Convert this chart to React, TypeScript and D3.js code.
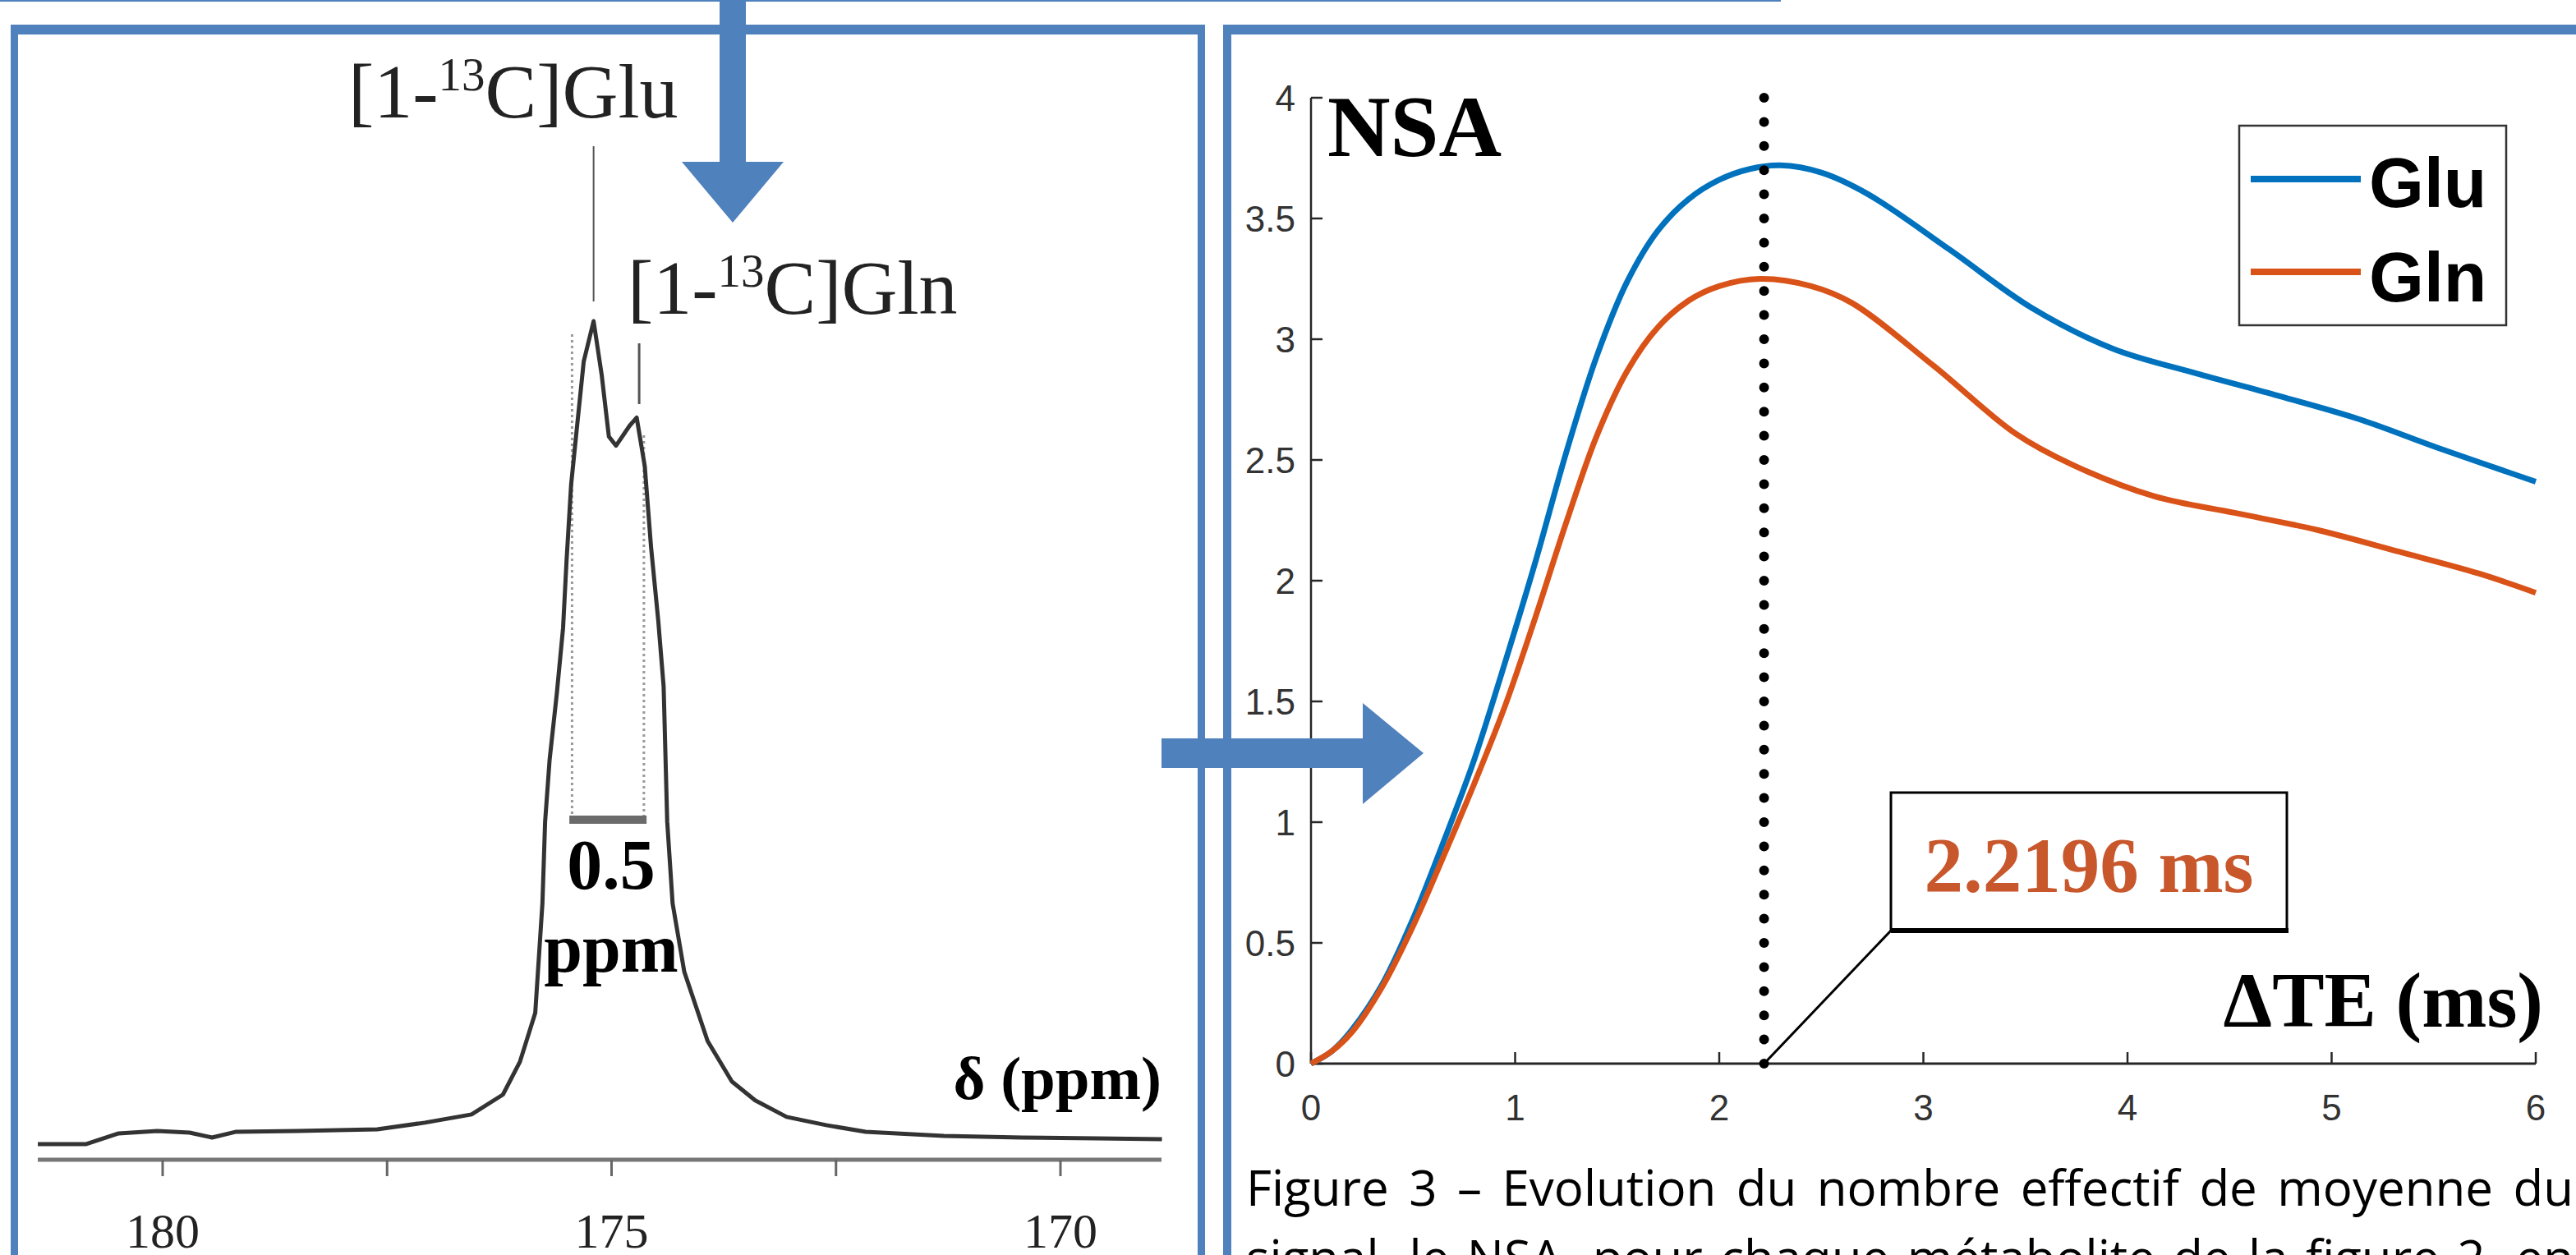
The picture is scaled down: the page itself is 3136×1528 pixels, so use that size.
import React, { useMemo } from 'react';
import * as d3 from 'd3';

// ---------- Right chart data (NSA vs ΔTE) ----------
const TE_GLU = [0, 0.1, 0.2, 0.35, 0.5, 0.65, 0.8, 0.95, 1.1, 1.25, 1.4, 1.55, 1.7, 1.85, 2.0, 2.15, 2.3, 2.5, 2.73, 3.13, 3.53, 3.93, 4.33, 4.72, 5.13, 5.52, 6.0];
const NSA_GLU = [0, 0.05, 0.14, 0.33, 0.6, 0.92, 1.26, 1.66, 2.08, 2.53, 2.93, 3.24, 3.45, 3.58, 3.66, 3.705, 3.72, 3.69, 3.6, 3.37, 3.13, 2.96, 2.86, 2.77, 2.67, 2.55, 2.41];
const TE_GLN = [0, 0.1, 0.2, 0.35, 0.5, 0.65, 0.8, 0.95, 1.1, 1.25, 1.4, 1.55, 1.7, 1.85, 2.0, 2.2, 2.45, 2.65, 3.05, 3.45, 3.73, 4.13, 4.53, 4.93, 5.33, 5.72, 6.0];
const NSA_GLN = [0, 0.05, 0.13, 0.32, 0.57, 0.86, 1.16, 1.48, 1.85, 2.24, 2.6, 2.87, 3.05, 3.16, 3.22, 3.25, 3.22, 3.15, 2.89, 2.61, 2.48, 2.35, 2.28, 2.21, 2.12, 2.03, 1.95];
const X_TICKS = [0, 1, 2, 3, 4, 5, 6];
const Y_TICKS = [0, 0.5, 1, 1.5, 2, 2.5, 3, 3.5, 4];
const SERIES_NAMES = ['Glu', 'Gln'];
const SERIES_COLORS = ['#0072BD', '#D95319'];
const TE_OPT = 2.2196;

// ---------- Left spectrum data ----------
const PPM = [181.39, 181.29, 180.85, 180.49, 180.06, 179.7, 179.45, 179.18, 178.5, 177.61, 177.08, 176.56, 176.21, 176.02, 175.85, 175.77, 175.74, 175.69, 175.61, 175.54, 175.5, 175.45, 175.38, 175.31, 175.2, 175.11, 175.03, 174.95, 174.8, 174.72, 174.63, 174.56, 174.48, 174.42, 174.38, 174.32, 174.19, 173.93, 173.66, 173.4, 173.05, 172.61, 172.17, 171.3, 170.43, 169.6, 168.87];
const INTENSITY = [0.2, 0.2, 0.2, 1.5, 1.8, 1.6, 1.0, 1.7, 1.8, 2.0, 2.8, 3.8, 6.2, 10.2, 16.1, 29.4, 39.3, 46.8, 54.8, 62.8, 71.2, 80.2, 87.7, 95.1, 100, 93.5, 86.0, 84.9, 87.3, 88.3, 82.4, 72.6, 63.7, 55.7, 39.3, 29.4, 21.1, 12.7, 7.8, 5.5, 3.5, 2.5, 1.7, 1.2, 1.0, 0.9, 0.8];
const PPM_TICKS = [180, 177.5, 175, 172.5, 170];
const PPM_LABELS = [180, 175, 170];
const GLU_PPM = 175.2;
const GLN_PPM = 174.72;

const CAPTION_1 = 'Figure 3 – Evolution du nombre effectif de moyenne du';
const CAPTION_2 = 'signal, le NSA, pour chaque métabolite de la figure 2, en';

const BLUE = '#4F81BD';
const SERIF = "'Liberation Serif', 'Times New Roman', serif";
const SANS = "'Liberation Sans', Arial, Helvetica, sans-serif";

function justify(text: string, font: string, x0: number, x1: number) {
  const words = text.split(' ');
  const canvas = document.createElement('canvas');
  const ctx = canvas.getContext('2d')!;
  ctx.font = font;
  const widths = words.map((w) => ctx.measureText(w).width);
  const total = widths.reduce((a, b) => a + b, 0);
  const gap = (x1 - x0 - total) / (words.length - 1);
  let x = x0;
  return words.map((w, i) => {
    const pos = { w, x };
    x += widths[i] + gap;
    return pos;
  });
}

export default function App() {
  // right chart scales
  const xR = d3.scaleLinear().domain([0, 6]).range([1596, 3087]);
  const yR = d3.scaleLinear().domain([0, 4]).range([1295, 119]);
  const lineR = d3
    .line<[number, number]>()
    .x((d) => xR(d[0]))
    .y((d) => yR(d[1]))
    .curve(d3.curveCatmullRom.alpha(0.5));
  const gluPath = lineR(TE_GLU.map((t, i) => [t, NSA_GLU[i]]))!;
  const glnPath = lineR(TE_GLN.map((t, i) => [t, NSA_GLN[i]]))!;

  // left spectrum scales
  const xS = d3.scaleLinear().domain([180, 170]).range([198, 1291]);
  const yS = d3.scaleLinear().domain([0, 100]).range([1395, 391]);
  const lineS = d3
    .line<[number, number]>()
    .x((d) => xS(d[0]))
    .y((d) => yS(d[1]));
  const specPath = lineS(PPM.map((p, i) => [p, INTENSITY[i]]))!;

  const capFont = "60px 'Open Sans'";
  const cap1 = useMemo(() => justify(CAPTION_1, capFont, 1517, 3133), []);
  const cap2 = useMemo(() => justify(CAPTION_2, capFont, 1517, 3133), []);

  const xOpt = xR(TE_OPT);

  return (
    <svg
      width={3136}
      height={1528}
      style={{ position: 'absolute', left: 0, top: 0, display: 'block', background: '#fff' }}
    >
      <rect x={0} y={0} width={3136} height={1528} fill="#fff" />

      {/* ===== Left panel: spectrum ===== */}
      <line x1={xS(GLU_PPM)} x2={xS(GLU_PPM)} y1={178} y2={367} stroke="#555" strokeWidth={2} />
      <line x1={xS(GLN_PPM) + 3} x2={xS(GLN_PPM) + 3} y1={418} y2={492} stroke="#555" strokeWidth={3} />
      <line x1={xS(175.44)} x2={xS(175.44)} y1={407} y2={995} stroke="#999" strokeWidth={3} strokeDasharray="3 4" />
      <line x1={xS(174.64)} x2={xS(174.64)} y1={530} y2={995} stroke="#999" strokeWidth={3} strokeDasharray="3 4" />
      <path d={specPath} fill="none" stroke="#333" strokeWidth={5} strokeLinejoin="round" />
      <line x1={xS(175.47)} x2={xS(174.61)} y1={998} y2={998} stroke="#6b6b6b" strokeWidth={10} />
      <text x={744} y={1082} textAnchor="middle" fontFamily={SERIF} fontWeight="bold" fontSize={86} fill="#000">0.5</text>
      <text x={744} y={1183} textAnchor="middle" fontFamily={SERIF} fontWeight="bold" fontSize={84} fill="#000">ppm</text>
      <text x={424} y={143} fontFamily={SERIF} fontSize={94} fill="#222">
        [1-<tspan dy={-33} fontSize={57}>13</tspan>
        <tspan dy={33}>C]Glu</tspan>
      </text>
      <text x={764} y={382} fontFamily={SERIF} fontSize={94} fill="#222">
        [1-<tspan dy={-33} fontSize={57}>13</tspan>
        <tspan dy={33}>C]Gln</tspan>
      </text>
      <line x1={46} x2={1414} y1={1412} y2={1412} stroke="#777" strokeWidth={5} />
      {PPM_TICKS.map((p) => (
        <line key={p} x1={xS(p)} x2={xS(p)} y1={1412} y2={1432} stroke="#666" strokeWidth={3} />
      ))}
      {PPM_LABELS.map((p) => (
        <text key={p} x={xS(p)} y={1519} textAnchor="middle" fontFamily={SERIF} fontSize={60} fill="#222">
          {p}
        </text>
      ))}
      <text x={1414} y={1338} textAnchor="end" fontFamily={SERIF} fontWeight="bold" fontSize={75} fill="#000">
        δ (ppm)
      </text>

      {/* ===== Right panel: NSA chart ===== */}
      <line x1={xR(0)} x2={xR(0)} y1={yR(4)} y2={yR(0)} stroke="#262626" strokeWidth={2.5} />
      <line x1={xR(0)} x2={xR(6)} y1={yR(0)} y2={yR(0)} stroke="#262626" strokeWidth={3} />
      {Y_TICKS.map((v) => (
        <g key={'y' + v}>
          <line x1={xR(0)} x2={xR(0) + 14} y1={yR(v)} y2={yR(v)} stroke="#262626" strokeWidth={2.5} />
          <text x={1577} y={yR(v)} dy="0.36em" textAnchor="end" fontFamily={SANS} fontSize={44} fill="#333">
            {v}
          </text>
        </g>
      ))}
      {X_TICKS.map((v) => (
        <g key={'x' + v}>
          <line x1={xR(v)} x2={xR(v)} y1={yR(0)} y2={yR(0) - 14} stroke="#262626" strokeWidth={2.5} />
          <text x={xR(v)} y={1364} textAnchor="middle" fontFamily={SANS} fontSize={44} fill="#333">
            {v}
          </text>
        </g>
      ))}
      <path d={gluPath} fill="none" stroke={SERIES_COLORS[0]} strokeWidth={7} strokeLinejoin="round" />
      <path d={glnPath} fill="none" stroke={SERIES_COLORS[1]} strokeWidth={7} strokeLinejoin="round" />
      <line
        x1={xOpt}
        x2={xOpt}
        y1={yR(0)}
        y2={yR(4)}
        stroke="#000"
        strokeWidth={12}
        strokeLinecap="round"
        strokeDasharray="0 29.4"
      />
      <text x={1616} y={190} fontFamily={SERIF} fontWeight="bold" fontSize={106} fill="#000">NSA</text>
      <rect x={2726} y={153} width={325} height={243} fill="#fff" stroke="#333" strokeWidth={2.5} />
      {SERIES_NAMES.map((n, i) => (
        <g key={n}>
          <line x1={2740} x2={2874} y1={218 + i * 113} y2={218 + i * 113} stroke={SERIES_COLORS[i]} strokeWidth={8} />
          <text x={2884} y={252 + i * 115} fontFamily={SANS} fontWeight="bold" fontSize={86} fill="#000">
            {n}
          </text>
        </g>
      ))}
      <line x1={2302} y1={1133} x2={xOpt} y2={yR(0)} stroke="#000" strokeWidth={3} />
      <rect x={2302} y={965} width={482} height={168} fill="#fff" stroke="#000" strokeWidth={3} />
      <line x1={2302} x2={2786} y1={1133} y2={1133} stroke="#000" strokeWidth={6} />
      <text x={2543} y={1086} textAnchor="middle" fontFamily={SERIF} fontWeight="bold" fontSize={95} fill="#C8572C">
        {TE_OPT} ms
      </text>
      <text x={3096} y={1250} textAnchor="end" fontFamily={SERIF} fontWeight="bold" fontSize={95} fill="#000">
        ΔTE (ms)
      </text>

      <text fontFamily="'Open Sans', sans-serif" fontSize={60} fill="#000">
        {cap1.map((p, i) => (
          <tspan key={'a' + i} x={p.x} y={1468}>{p.w}</tspan>
        ))}
      </text>
      <text fontFamily="'Open Sans', sans-serif" fontSize={60} fill="#000">
        {cap2.map((p, i) => (
          <tspan key={'b' + i} x={p.x} y={1553}>{p.w}</tspan>
        ))}
      </text>

      {/* ===== Panel frames and arrows ===== */}
      <rect x={0} y={-4} width={2168} height={6} fill={BLUE} />
      <rect x={13} y={30} width={1454} height={12} fill={BLUE} />
      <rect x={13} y={30} width={9} height={1510} fill={BLUE} />
      <rect x={1458} y={30} width={9} height={1510} fill={BLUE} />
      <rect x={1489} y={30} width={1660} height={12} fill={BLUE} />
      <rect x={1489} y={30} width={10} height={1510} fill={BLUE} />
      <rect x={876} y={-2} width={32} height={200} fill={BLUE} />
      <polygon points="830,197 954,197 892,271" fill={BLUE} />
      <rect x={1414} y={899} width={246} height={36} fill={BLUE} />
      <polygon points="1659,856 1659,979 1733,917" fill={BLUE} />
    </svg>
  );
}
